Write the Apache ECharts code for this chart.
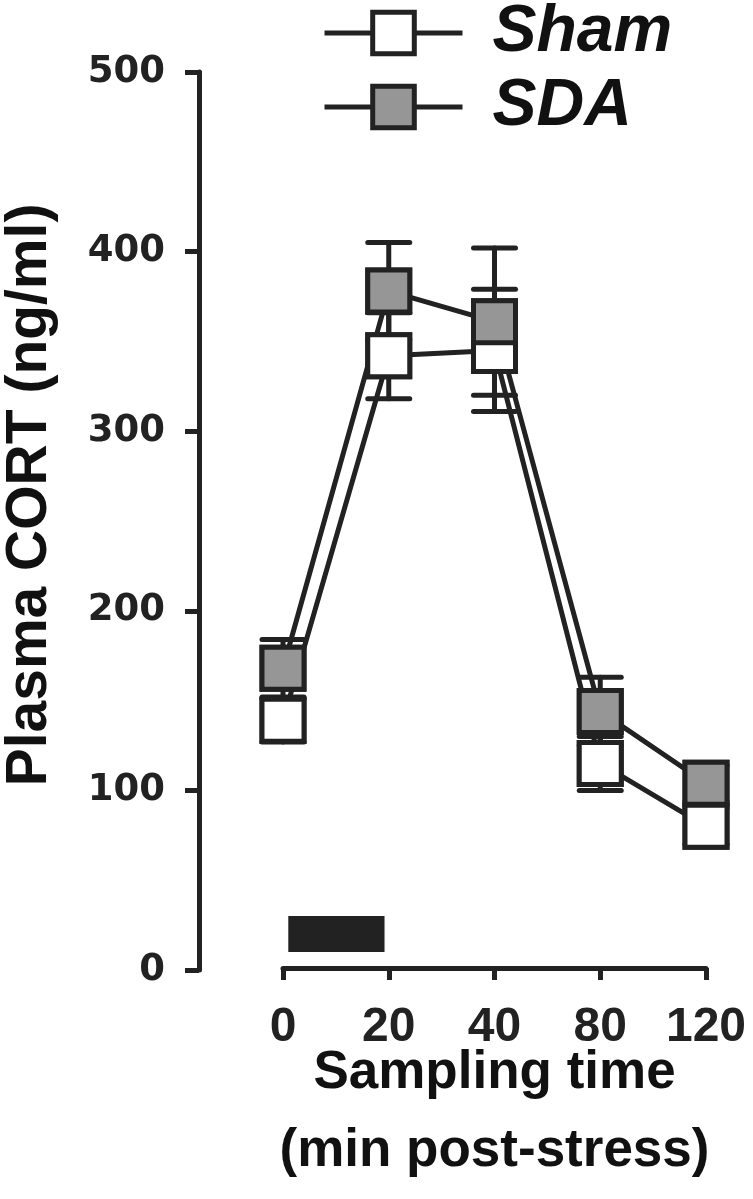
<!DOCTYPE html>
<html>
<head>
<meta charset="utf-8">
<script src="https://cdn.jsdelivr.net/npm/echarts@6/dist/echarts.min.js"></script>
<style>
  html, body { margin: 0; padding: 0; background: #fff; }
  #chart { width: 753px; height: 1199px; }
</style>
</head>
<body>
<div id="chart"></div>
<script>
// data (ng/ml)
const timeLabels = ['0', '20', '40', '80', '120'];
const shamMean = [139, 342, 345, 115, 80];
const shamSem = [12, 24, 34, 15, 10];
const sdaMean = [168, 378, 361, 144, 104];
const sdaSem = [16, 27, 41, 19, 10];
// stress period bar: x from, x to (category index), y from, y to (ng/ml)
const stressBar = [0.05, 0.96, 10, 30];

const ink = '#222222';
const grey = '#969696';

const chart = echarts.init(document.getElementById('chart'));

function toPoints(means) {
  return means.map((v, i) => [i, v]);
}
function toErr(means, sems) {
  return means.map((v, i) => [i, v, sems[i]]);
}

// vertical error bar with caps
function errorBars(params, api) {
  const x = api.value(0), m = api.value(1), s = api.value(2);
  const top = api.coord([x, m + s]);
  const bot = api.coord([x, m - s]);
  const half = 21;
  const style = { stroke: ink, lineWidth: 5, lineCap: 'round' };
  return {
    type: 'group',
    children: [
      { type: 'line', shape: { x1: top[0], y1: top[1], x2: bot[0], y2: bot[1] }, style: style },
      { type: 'line', shape: { x1: top[0] - half, y1: top[1], x2: top[0] + half, y2: top[1] }, style: style },
      { type: 'line', shape: { x1: bot[0] - half, y1: bot[1], x2: bot[0] + half, y2: bot[1] }, style: style }
    ]
  };
}

function stressRect(params, api) {
  const p1 = api.coord([api.value(0), api.value(3)]);
  const p2 = api.coord([api.value(1), api.value(2)]);
  return {
    type: 'rect',
    shape: { x: p1[0], y: p1[1], width: p2[0] - p1[0], height: p2[1] - p1[1] },
    style: { fill: ink }
  };
}

const option = {
  animation: false,
  backgroundColor: '#fff',
  grid: [
    { left: 199, right: 47, top: 72, bottom: 229, outerBoundsMode: 'none', containLabel: false },
    { left: 283, right: 47, top: 72, bottom: 229, outerBoundsMode: 'none', containLabel: false }
  ],
  legend: {
    orient: 'vertical',
    left: 322,
    top: 0,
    padding: 0,
    itemWidth: 138,
    itemHeight: 52,
    itemGap: 8,
    selectedMode: false,
    data: ['Sham', 'SDA'],
    lineStyle: { color: ink, width: 5 },
    itemStyle: { borderColor: ink, borderWidth: 5 },
    textStyle: {
      fontFamily: 'Liberation Sans',
      fontSize: 66,
      fontStyle: 'italic',
      fontWeight: 'bold',
      color: '#111',
      padding: [0, 0, 0, 25]
    }
  },
  xAxis: [
    { gridIndex: 0, type: 'value', min: 0, max: 4, show: false },
    {
      gridIndex: 1,
      type: 'value',
      min: 0,
      max: 4,
      interval: 1,
      offset: -2,
      axisLine: { lineStyle: { color: ink, width: 5 } },
      axisTick: { length: 12, lineStyle: { color: ink, width: 5 } },
      splitLine: { show: false },
      axisLabel: {
        formatter: v => timeLabels[v],
        showMinLabel: true,
        showMaxLabel: true,
        margin: 36,
        fontFamily: 'Liberation Sans',
        fontSize: 48,
        fontWeight: 'bold',
        color: ink
      },
      name: 'Sampling time\n(min post-stress)',
      nameLocation: 'middle',
      nameGap: 66,
      nameMoveOverlap: false,
      nameTextStyle: {
        fontFamily: 'Liberation Sans',
        fontSize: 53,
        fontWeight: 'bold',
        lineHeight: 78,
        color: '#111'
      }
    }
  ],
  yAxis: [
    {
      gridIndex: 0,
      type: 'value',
      min: 0,
      max: 500,
      interval: 100,
      axisLine: { show: true, lineStyle: { color: ink, width: 5 } },
      axisTick: { show: true, length: 14, lineStyle: { color: ink, width: 5 } },
      splitLine: { show: false },
      axisLabel: {
        margin: 34,
        fontFamily: 'DejaVu Sans',
        fontSize: 37,
        fontWeight: 'bold',
        color: ink
      },
      name: 'Plasma CORT (ng/ml)',
      nameLocation: 'middle',
      nameGap: 140,
      nameMoveOverlap: false,
      nameTextStyle: {
        fontFamily: 'Liberation Sans',
        fontSize: 57,
        fontWeight: 'bold',
        color: '#111',
        padding: [0, 0, 0, 52]
      }
    },
    { gridIndex: 1, type: 'value', min: 0, max: 500, show: false }
  ],
  series: [
    {
      name: 'Sham',
      type: 'line',
      xAxisIndex: 1,
      yAxisIndex: 1,
      data: toPoints(shamMean),
      symbol: 'rect',
      symbolSize: 42,
      lineStyle: { color: ink, width: 5 },
      itemStyle: { color: '#fff', borderColor: ink, borderWidth: 5 },
      z: 2
    },
    {
      name: 'SDA',
      type: 'line',
      xAxisIndex: 1,
      yAxisIndex: 1,
      data: toPoints(sdaMean),
      symbol: 'rect',
      symbolSize: 42,
      lineStyle: { color: ink, width: 5 },
      itemStyle: { color: grey, borderColor: ink, borderWidth: 5 },
      z: 2
    },
    {
      type: 'custom',
      xAxisIndex: 1,
      yAxisIndex: 1,
      data: toErr(shamMean, shamSem),
      encode: { x: 0, y: 1 },
      renderItem: errorBars,
      silent: true,
      z: 1
    },
    {
      type: 'custom',
      xAxisIndex: 1,
      yAxisIndex: 1,
      data: toErr(sdaMean, sdaSem),
      encode: { x: 0, y: 1 },
      renderItem: errorBars,
      silent: true,
      z: 1
    },
    {
      type: 'custom',
      xAxisIndex: 1,
      yAxisIndex: 1,
      data: [stressBar],
      encode: { x: [0, 1], y: [2, 3] },
      renderItem: stressRect,
      silent: true,
      z: 1
    },
    {
      type: 'scatter',
      xAxisIndex: 1,
      yAxisIndex: 1,
      data: toPoints(shamMean),
      symbol: 'rect',
      symbolSize: 42,
      itemStyle: { color: '#fff', borderColor: ink, borderWidth: 5, opacity: 1 },
      silent: true,
      z: 5
    },
    {
      type: 'scatter',
      xAxisIndex: 1,
      yAxisIndex: 1,
      data: toPoints(sdaMean),
      symbol: 'rect',
      symbolSize: 42,
      itemStyle: { color: grey, borderColor: ink, borderWidth: 5, opacity: 1 },
      silent: true,
      z: 6
    }
  ]
};

chart.setOption(option);
</script>
</body>
</html>
